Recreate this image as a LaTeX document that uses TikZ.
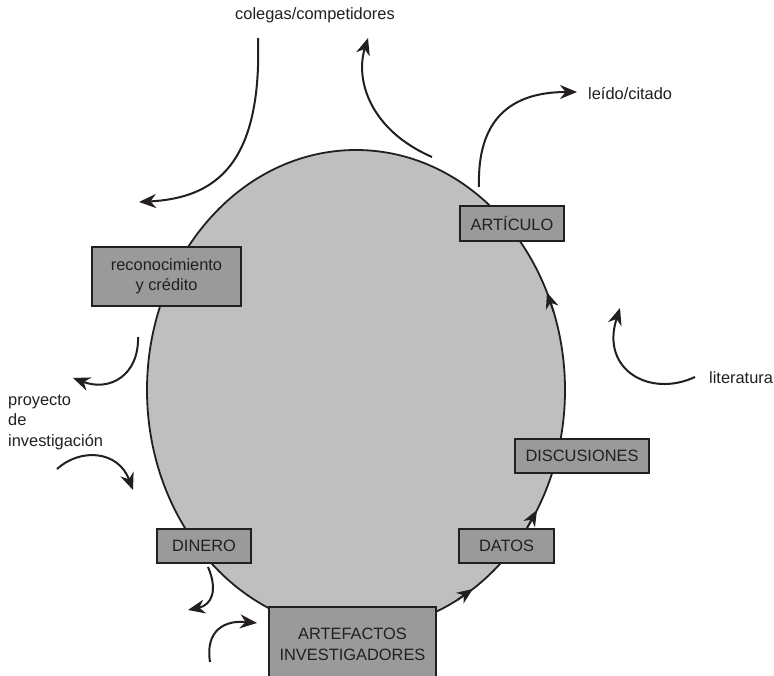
\documentclass[tikz,border=0pt]{standalone}
\usepackage{fontspec}
\setmainfont{Liberation Sans}
\usetikzlibrary{arrows.meta,calc}
\definecolor{ink}{HTML}{231F20}
\definecolor{cyclefill}{HTML}{BFBFBF}
\definecolor{boxfill}{HTML}{9A9A9A}
\begin{document}
\begin{tikzpicture}[x=1pt,y=-1pt,
  font=\fontsize{16.4pt}{20.5pt}\selectfont,
  box/.style={draw=ink, line width=2pt, fill=boxfill, text=ink, inner sep=0pt, align=center},
  lab/.style={inner sep=0pt, text=ink, align=left},
  flow/.style={draw=ink, line width=2pt, -{Stealth[length=17pt,width=14pt,inset=5.5pt]}},
  rim/.style={draw=ink, line width=1.8pt, -{Stealth[length=16pt,width=13pt,inset=5pt]}}]
\clip (0,0) rectangle (774,676);
\fill[white] (0,0) rectangle (774,676);

% central cycle
\coordinate (c) at (356,390);
\draw[ink, line width=1.8pt, fill=cyclefill] (c) ellipse [x radius=209, y radius=240];

% arrows along the rim
\draw[rim] ($(c)+(61:209 and 240)$) -- ($(c)+(56:209 and 240)$);
\draw[rim] ($(c)+(35:209 and 240)$) -- ($(c)+(30:209 and 240)$);
\draw[rim] ($(c)+(-19:209 and 240)$) -- ($(c)+(-24:209 and 240)$);

% boxes
\node[box, minimum width=149pt, minimum height=59pt] (recon) at (166.5,276.5) {reconocimiento\\y crédito};
\node[box, minimum width=104pt, minimum height=35pt] (art) at (512,223.5) {ARTÍCULO};
\node[box, minimum width=134pt, minimum height=34pt] (disc) at (582,456) {DISCUSIONES};
\node[box, minimum width=95pt, minimum height=34pt] (datos) at (506.5,546) {DATOS};
\node[box, minimum width=94pt, minimum height=34pt] (dinero) at (204,546) {DINERO};
\node[box, minimum width=167pt, minimum height=75pt] (artef) at (352.5,644.5) {ARTEFACTOS\\INVESTIGADORES};

% labels
\node[lab, anchor=base] (colegas) at (315,20) {colegas/competidores};
\node[lab, anchor=base west] (leido) at (588,100) {leído/citado};
\node[lab, anchor=base west] (lit) at (709,383) {literatura};
\node[lab, anchor=base west] (proy) at (8,446) {proyecto\\de\\investigación};

% free ends of the outside arrows
\coordinate (colA) at (258,38);   \coordinate (colB) at (139,202);
\coordinate (upA) at (432,157);   \coordinate (upB) at (368,38);
\coordinate (leA) at (479,187);   \coordinate (leB) at (577,92);
\coordinate (liA) at (695,377);   \coordinate (liB) at (620,308);
\coordinate (reA) at (138,337);   \coordinate (reB) at (73,378);
\coordinate (prA) at (57,469);    \coordinate (prB) at (133,490);
\coordinate (diA) at (208,567);   \coordinate (diB) at (188,610);
\coordinate (arA) at (210,662);   \coordinate (arB) at (257,623);

\draw[flow] (colA) .. controls (262,165) and (215,198) .. (colB);
\draw[flow] (upA) .. controls (370,130) and (355,80) .. (upB);
\draw[flow] (leA) .. controls (477,120) and (510,92) .. (leB);
\draw[flow] (liA) .. controls (650,398) and (600,370) .. (liB);
\draw[flow] (reA) .. controls (139,375) and (110,392) .. (reB);
\draw[flow] (prA) .. controls (80,448) and (118,450) .. (prB);
\draw[flow] (diA) .. controls (218,590) and (212,605) .. (diB);
\draw[flow] (arA) .. controls (205,630) and (225,620) .. (arB);
\end{tikzpicture}
\end{document}
